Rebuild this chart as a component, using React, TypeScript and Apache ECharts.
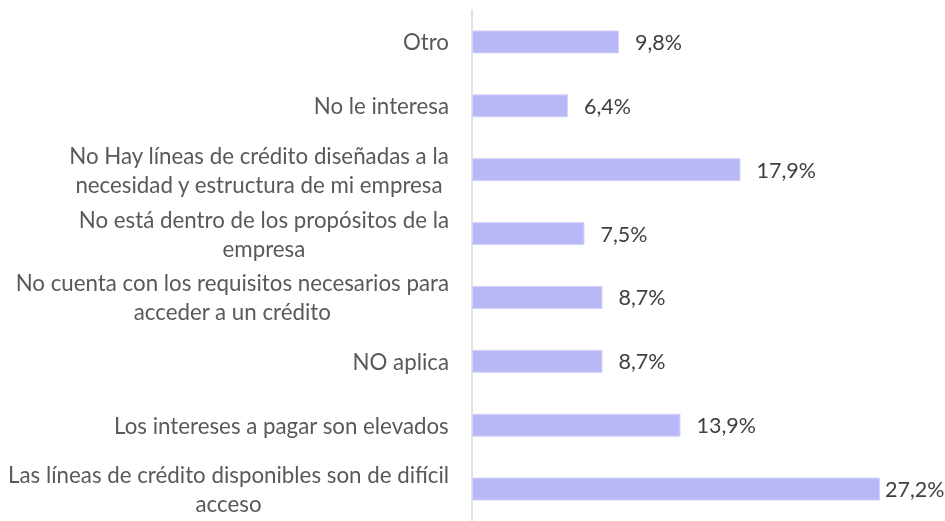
import React, { useEffect, useRef } from "react";
import * as echarts from "echarts";

const categories = [
  "Otro",
  "No le interesa",
  "No Hay líneas de crédito diseñadas a la\nnecesidad y estructura de mi empresa",
  "No está dentro de los propósitos de la\nempresa",
  "No cuenta con los requisitos necesarios para\nacceder a un crédito",
  "NO aplica",
  "Los intereses a pagar son elevados",
  "Las líneas de crédito disponibles son de difícil\nacceso",
];
const values = [9.8, 6.4, 17.9, 7.5, 8.7, 8.7, 13.9, 27.2];

export default function App() {
  const ref = useRef<HTMLDivElement>(null);
  useEffect(() => {
    if (!ref.current) return;
    const chart = echarts.init(ref.current, null, { renderer: "svg" });
    const font = "Lato, 'Open Sans', sans-serif";
    chart.setOption({
      animation: false,
      grid: { left: 472, width: 450, top: 10, height: 518 },
      xAxis: { type: "value", min: 0, max: 30, show: false },
      yAxis: {
        type: "category",
        inverse: true,
        data: categories,
        axisLine: { show: true, lineStyle: { color: "#d9d9d9", width: 1.5 } },
        axisTick: { show: false },
        splitLine: { show: false },
        axisLabel: {
          margin: 23,
          align: "right",
          fontFamily: font,
          fontSize: 22.3,
          color: "#595959",
          lineHeight: 29,
          formatter: (v: string) =>
            v
              .split("\n")
              .map((l) => "{c|" + l + "}")
              .join("\n"),
          rich: {
            c: {
              align: "center",
              fontFamily: font,
              fontSize: 22.3,
              color: "#595959",
              lineHeight: 29,
            },
          },
        },
      },
      series: [
        {
          type: "bar",
          barWidth: 23,
          data: values.map((v, i) =>
            i === values.length - 1
              ? { value: v, label: { distance: 5 } }
              : v
          ),
          itemStyle: { color: "#b8b8f6", borderColor: "#d4d4fa", borderWidth: 1 },
          label: {
            show: true,
            position: "right",
            distance: 16,
            fontFamily: font,
            fontSize: 21.5,
            color: "#404040",
            formatter: (p: any) => p.value.toFixed(1).replace(".", ",") + "%",
          },
        },
      ],
    });
    return () => chart.dispose();
  }, []);
  return (
    <div
      ref={ref}
      style={{ position: "fixed", left: 0, top: 0, width: 945, height: 521 }}
    />
  );
}
